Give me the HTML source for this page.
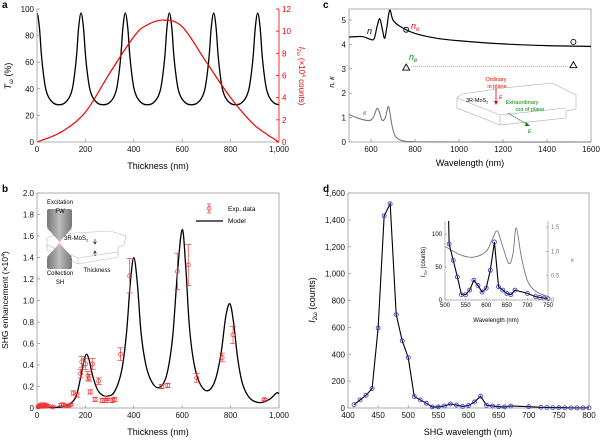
<!DOCTYPE html>
<html><head><meta charset="utf-8"><style>
body{margin:0;background:#fff}
svg{font-family:"Liberation Sans",sans-serif;display:block}
</style></head><body>
<svg id="fig" width="600" height="440" viewBox="0 0 600 440" xmlns="http://www.w3.org/2000/svg">
<g id="root"></g>
</svg>
<script>
// ---------- DATA ----------
// panel a
const aPeaks=[0,182,365,547,730,912];
const aProfileOff=[-91,-70,-50,-36,-26,-18,-10,0,10,18,26,36,50,70,91];
const aProfileVal=[28,29,33,40,52,66,86,97,86,66,52,40,33,29,28];
const aRedX=[0,100,200,300,400,450,520,600,700,800,900,1000];
const aRedY=[0,0.9,2.7,6.2,9.5,10.5,11.0,10.4,7.2,4.0,1.5,0];
const aXTicks=[0,200,400,600,800,1000];
const aXLabels=["0","200","400","600","800","1,000"];
const aYTicks=[0,20,40,60,80,100];
const aY2Ticks=[0,2,4,6,8,10,12];
// panel b
const bModelX=[0,50,100,130,160,180,195,205,215,230,250,270,290,320,350,370,385,400,415,430,450,475,505,535,560,580,600,615,630,650,675,705,735,760,780,797,812,830,850,880,920,960,990,1000];
const bModelY=[0,0.005,0.01,0.03,0.1,0.28,0.45,0.5,0.45,0.3,0.17,0.12,0.11,0.15,0.35,0.7,1.15,1.4,1.15,0.7,0.4,0.24,0.19,0.3,0.65,1.25,1.66,1.3,0.75,0.4,0.22,0.16,0.25,0.5,0.85,0.97,0.8,0.45,0.22,0.09,0.05,0.08,0.14,0.13];
const bExpX=[5,10,15,20,25,30,35,40,45,65,100,110,120,130,140,150,165,180,185,200,210,215,220,230,240,255,270,285,290,310,320,345,383,515,540,580,625,660,765,810,940];
const bExpY=[0.01,0.02,0.03,0.02,0.03,0.02,0.03,0.02,0.02,0.01,0.03,0.03,0.02,0.02,0.03,0.14,0.12,0.32,0.43,0.41,0.3,0.28,0.15,0.41,0.08,0.25,0.07,0.07,0.09,0.07,0.08,0.50,1.23,0.20,0.21,1.27,1.33,0.28,0.47,0.68,0.08];
const bExpErr=[0.01,0.01,0.01,0.01,0.01,0.01,0.01,0.01,0.01,0.01,0.01,0.01,0.01,0.01,0.01,0.02,0.02,0.04,0.05,0.05,0.04,0.03,0.02,0.05,0.02,0.03,0.02,0.02,0.02,0.02,0.02,0.06,0.16,0.02,0.02,0.17,0.19,0.04,0.04,0.08,0.01];
const bXTicks=[0,200,400,600,800,1000];
const bXLabels=["0","200","400","600","800","1,000"];
const bYTicks=[0,0.2,0.4,0.6,0.8,1.0,1.2,1.4,1.6,1.8,2.0];
// panel c
const cNX=[500,560,600,615,628,640,652,662,672,685,700,730,800,900,1000,1200,1400,1600];
const cNY=[4.3,4.32,4.2,4.25,4.75,5.05,4.6,4.25,4.7,5.4,5.0,4.75,4.45,4.25,4.15,4.02,3.95,3.92];
const cKX=[500,550,590,610,630,650,665,680,695,710,740,800,1000,1600];
const cKY=[1.12,0.95,0.88,1.0,1.38,0.9,1.0,1.45,0.7,0.25,0.06,0.01,0,0];
const cCircX=[760,1520];const cCircY=[4.6,4.1];
const cTriX=[760,1520];const cTriY=[3.05,3.15];
const cXTicks=[600,800,1000,1200,1400,1600];
const cYTicks=[0,1,2,3,4,5];
// panel d
const dX=[410,420,430,440,450,460,470,480,490,500,510,520,530,540,550,560,570,580,590,600,610,620,630,640,650,660,670,700,720,730,740,750,760,770,780,790,800];
const dY=[25,60,95,145,595,1430,1520,695,500,375,85,60,35,8,8,15,30,22,12,18,45,88,20,15,10,8,15,10,5,4,3,2,2,1,1,1,1];
const dXTicks=[400,450,500,550,600,650,700,750,800];
const dYTicks=[0,200,400,600,800,1000,1200,1400,1600];
const dYLabels=["0","200","400","600","800","1,000","1,200","1,400","1,600"];
const dInKX=[500,540,570,600,615,627,640,655,665,673,685,700,720,750];
const dInKY=[1.1,0.92,0.88,1.0,1.25,1.42,1.1,0.75,0.95,1.48,0.9,0.4,0.18,0.07];
const dInXTicks=[500,550,600,650,700,750];
const dInYTicks=[0,50,100];
const dInY2Ticks=[0,0.5,1.0,1.5];

// ---------- HELPERS ----------
const NS="http://www.w3.org/2000/svg";
const root=document.getElementById('root');
function el(tag,attrs,parent,text){const e=document.createElementNS(NS,tag);for(const k in attrs)e.setAttribute(k,attrs[k]);if(text!==undefined)e.textContent=text;(parent||root).appendChild(e);return e;}
function lin(d0,d1,r0,r1){return v=>r0+(v-d0)/(d1-d0)*(r1-r0);}
function smooth(pts){if(pts.length<2)return'';let d='M'+pts[0][0].toFixed(2)+','+pts[0][1].toFixed(2);for(let i=0;i<pts.length-1;i++){const p0=pts[i-1]||pts[i],p1=pts[i],p2=pts[i+1],p3=pts[i+2]||p2;const c1=[p1[0]+(p2[0]-p0[0])/6,p1[1]+(p2[1]-p0[1])/6],c2=[p2[0]-(p3[0]-p1[0])/6,p2[1]-(p3[1]-p1[1])/6];d+='C'+c1.map(v=>v.toFixed(2))+' '+c2.map(v=>v.toFixed(2))+' '+p2[0].toFixed(2)+','+p2[1].toFixed(2);}return d;}
function poly(pts){return 'M'+pts.map(p=>p[0].toFixed(2)+','+p[1].toFixed(2)).join('L');}
function frame(g,x0,y0,x1,y1){el('rect',{x:x0,y:y0,width:x1-x0,height:y1-y0,fill:'none',stroke:'#999','stroke-width':0.8},g);}
function xTicks(g,sx,ticks,labels,yb,fs){ticks.forEach((t,i)=>{el('line',{x1:sx(t),x2:sx(t),y1:yb,y2:yb-3,stroke:'#999','stroke-width':0.8},g);const tx=el('text',{x:sx(t),y:yb+10,'font-size':fs||8,'text-anchor':'middle',fill:'#111'},g,labels?labels[i]:String(t));});}
function yTicks(g,sy,ticks,labels,xl,fs,color,right){ticks.forEach((t,i)=>{el('line',{x1:xl,x2:right?xl-3:xl+3,y1:sy(t),y2:sy(t),stroke:color||'#999','stroke-width':0.8},g);const tx=el('text',{x:right?xl+3:xl-3,y:sy(t)+3,'font-size':fs||8,'text-anchor':right?'start':'end',fill:color||'#111'},g,labels?labels[i]:String(t));});}
function label(txt,x,y){const t=el('text',{x:x,y:y,'font-size':10,'font-weight':'bold'},root,txt);}

// ---------- PANEL A ----------
(function(){
const g=el('g',{});
const X0=37,X1=279,Y0=9,Y1=142;
const sx=lin(0,1000,X0,X1),sy=lin(0,100,Y1,Y0),sy2=lin(0,12,Y1,Y0);
el('defs',{},g).innerHTML='<clipPath id="ca"><rect x="37" y="0" width="242" height="142"/></clipPath>';
const pts=[];aPeaks.forEach(p=>aProfileOff.forEach((o,i)=>{const t=p+o;pts.push([t,aProfileVal[i]]);}));
pts.sort((a,b)=>a[0]-b[0]);
const uniq=pts.filter((p,i)=>i===0||Math.abs(p[0]-pts[i-1][0])>1);
const tc=el('path',{d:smooth(uniq.map(p=>[sx(p[0]),sy(p[1])])),fill:'none',stroke:'#000','stroke-width':1.3,'clip-path':'url(#ca)'},g);

const rc=el('path',{d:smooth(aRedX.map((x,i)=>[sx(x),sy2(aRedY[i])])),fill:'none',stroke:'#e00','stroke-width':1.2},g);

el('line',{x1:X0,x2:X1,y1:Y1,y2:Y1,stroke:'#999','stroke-width':0.8},g);
el('line',{x1:X0,x2:X0,y1:Y0,y2:Y1,stroke:'#999','stroke-width':0.8},g);
el('line',{x1:X1,x2:X1,y1:Y0,y2:Y1,stroke:'#e00','stroke-width':0.8},g);
xTicks(g,sx,aXTicks,aXLabels,Y1);
yTicks(g,sy,aYTicks,null,X0);
yTicks(g,sy2,aY2Ticks,null,X1,8,'#e00',true);
let t=el('text',{x:158,y:169,'font-size':9,'text-anchor':'middle'},g,'Thickness (nm)');
t=el('text',{transform:'translate(11,76) rotate(-90)','font-size':9,'text-anchor':'middle'},g);t.innerHTML='<tspan font-style="italic">T</tspan><tspan font-size="6" dy="2">ω</tspan><tspan dy="-2"> (%)</tspan>';
t=el('text',{transform:'translate(299,76) rotate(90)','font-size':8,'text-anchor':'middle',fill:'#e00'},g);t.innerHTML='<tspan font-style="italic">I</tspan><tspan font-size="5" dy="2">2ω</tspan><tspan dy="-2"> (×10</tspan><tspan font-size="5" dy="-3">4</tspan><tspan dy="3"> counts)</tspan>';
})();

// ---------- PANEL B ----------
(function(){
const g=el('g',{});
const X0=37,X1=279,Y0=193,Y1=408;
const sx=lin(0,1000,X0,X1),sy=lin(0,2,Y1,Y0);
frame(g,X0,Y0,X1,Y1);
xTicks(g,sx,bXTicks,bXLabels,Y1);
yTicks(g,sy,bYTicks,bYTicks.map(v=>v===0?'0':v.toFixed(1)),X0);
const sg=el('g',{},g);
sg.innerHTML='<defs><linearGradient id="gobj" x1="0" x2="1"><stop offset="0" stop-color="#777"/><stop offset="0.5" stop-color="#bbb"/><stop offset="1" stop-color="#777"/></linearGradient></defs>'+
'<path d="M47,238 L57,234 L110,231 L126,236 L124,245 L118,247 L118,252 L78,258 L47,245 Z" fill="none" stroke="#bbb" stroke-width="0.6"/>'+
'<path d="M47,245 L47,250 L78,264 L118,257 L118,252 M78,258 L78,264" fill="none" stroke="#bbb" stroke-width="0.6"/>'+
'<rect x="47" y="209" width="25" height="19" rx="2" fill="url(#gobj)"/><path d="M47,228 L72,228 L62,239 L57,239 Z" fill="url(#gobj)"/>'+
'<path d="M57,246 L62,246 L72,257 L47,257 Z" fill="url(#gobj)"/><rect x="47" y="257" width="25" height="12" rx="2" fill="url(#gobj)"/>'+
'<path d="M57,239 L62,239 L59.5,242.5 Z M57,246 L62,246 L59.5,242.5 Z" fill="#f4a9a0"/>'+
'<path d="M95,239 v5 M93.5,241.5 L95,244 L96.5,241.5 M95,256 v-5 M93.5,253.5 L95,251 L96.5,253.5" stroke="#000" stroke-width="0.6" fill="none"/>';
[['Excitation',60,204],['FW',60,213],['Collection',60,275],['SH',60,284],['Thickness',97,272]].forEach(a=>{const t=el('text',{x:a[1],y:a[2],'font-size':6,'text-anchor':'middle'},sg,a[0]);});
let t=el('text',{x:64,y:240,'font-size':6},sg);t.innerHTML='3R-MoS<tspan font-size="4" dy="1.5">2</tspan>';
const m=el('path',{d:smooth(bModelX.map((x,i)=>[sx(x),sy(bModelY[i])])),fill:'none',stroke:'#000','stroke-width':1.3},g);

bExpX.forEach((x,i)=>{const px=sx(x),py=sy(bExpY[i]),e=sy(bExpY[i]-bExpErr[i])-py;
const pg=el('g',{stroke:'#e33',fill:'none','stroke-width':0.7},g);
el('line',{x1:px,x2:px,y1:py-e,y2:py+e},pg);el('line',{x1:px-3,x2:px+3,y1:py-e,y2:py-e},pg);el('line',{x1:px-3,x2:px+3,y1:py+e,y2:py+e},pg);
el('circle',{cx:px,cy:py,r:2},pg);});
const lg=el('g',{},g);
el('line',{x1:209,x2:209,y1:204,y2:213,stroke:'#e33','stroke-width':0.7},lg);el('line',{x1:207,x2:211,y1:204,y2:204,stroke:'#e33','stroke-width':0.7},lg);el('line',{x1:207,x2:211,y1:213,y2:213,stroke:'#e33','stroke-width':0.7},lg);
el('circle',{cx:209,cy:208.5,r:2,fill:'none',stroke:'#e33','stroke-width':0.7},lg);
el('text',{x:228,y:211,'font-size':6.5},lg,'Exp. data');
el('line',{x1:196,x2:223,y1:221,y2:221,stroke:'#000','stroke-width':1.3},lg);
el('text',{x:228,y:223,'font-size':6.5},lg,'Model');
t=el('text',{x:158,y:435,'font-size':9,'text-anchor':'middle'},g,'Thickness (nm)');
t=el('text',{transform:'translate(8,300) rotate(-90)','font-size':8.5,'text-anchor':'middle'},g);t.innerHTML='SHG enhancement (×10<tspan font-size="5.5" dy="-3">4</tspan><tspan dy="3">)</tspan>';
})();

// ---------- PANEL C ----------
(function(){
const g=el('g',{});
const X0=349,X1=591,Y0=9,Y1=142;
const sx=lin(500,1600,X0,X1),sy=lin(0,5,Y1,20);
frame(g,X0,Y0,X1,Y1);
xTicks(g,sx,cXTicks,null,Y1);
yTicks(g,sy,cYTicks,null,X0);
const sg=el('g',{},g);
sg.innerHTML='<path d="M457,98 L462,94 L504,88 L552,83 L576,95 L576,109 L566,111 L566,118 L500,125 L457,108 Z M500,115 L500,125 M500,115 L566,108 M457,98 L500,115" fill="none" stroke="#aaa" stroke-width="0.6"/>'+
'<path d="M496,88 V103" stroke="#e00" stroke-width="0.8"/><path d="M494,101 L496,105 L498,101 Z" fill="#e00"/>'+
'<path d="M508,113 L528,125" stroke="#080" stroke-width="0.7" stroke-dasharray="2,0.5"/><path d="M526,122 L530,126 L525,126 Z" fill="#080"/>';
[['Ordinary',496,81,'#e00'],['in plane',497,88,'#e00'],['Extraordinary',522,104,'#080'],['out of plane',530,111,'#080']].forEach(a=>{const t=el('text',{x:a[1],y:a[2],'font-size':5.5,'text-anchor':'middle',fill:a[3]},sg,a[0]);});
let t=el('text',{x:466,y:102,'font-size':5.5},sg);t.innerHTML='3R-MoS<tspan font-size="4" dy="1.5">2</tspan>';
el('text',{x:499,y:99,'font-size':5,fill:'#e00','font-style':'italic'},sg,'E');
el('text',{x:528,y:133,'font-size':5,fill:'#080','font-style':'italic'},sg,'E');
const n=el('path',{d:smooth(cNX.map((x,i)=>[sx(x),sy(cNY[i])])),fill:'none',stroke:'#000','stroke-width':1.2},g);
const k=el('path',{d:smooth(cKX.map((x,i)=>[sx(x),sy(cKY[i])])),fill:'none',stroke:'#777','stroke-width':1.1},g);
const dl=el('line',{x1:sx(cTriX[0])+5,x2:sx(cTriX[1])-5,y1:sy((cTriY[0]+cTriY[1])/2),y2:sy((cTriY[0]+cTriY[1])/2),stroke:'#999','stroke-width':0.8,'stroke-dasharray':'1,1'},g);
cCircX.forEach((x,i)=>{const c=el('circle',{cx:sx(x),cy:sy(cCircY[i]),r:2.5,fill:'none',stroke:'#000','stroke-width':0.9},g);});
cTriX.forEach((x,i)=>{const px=sx(x),py=sy(cTriY[i]);const p=el('path',{d:`M${px-3.5},${py+2.5}L${px+3.5},${py+2.5}L${px},${py-3.5}Z`,fill:'none',stroke:'#000','stroke-width':0.9},g);});
el('text',{x:367,y:34,'font-size':9,'font-style':'italic'},g,'n');
t=el('text',{x:411,y:29,'font-size':9,'font-style':'italic',fill:'#e00'},g);t.innerHTML='n<tspan font-size="6" dy="2">o</tspan>';
t=el('text',{x:409,y:60,'font-size':9,'font-style':'italic',fill:'#080'},g);t.innerHTML='n<tspan font-size="6" dy="2">e</tspan>';
el('text',{x:363,y:115,'font-size':7,'font-style':'italic',fill:'#777'},g,'κ');
t=el('text',{x:470,y:166,'font-size':9,'text-anchor':'middle'},g,'Wavelength (nm)');
t=el('text',{transform:'translate(334,82) rotate(-90)','font-size':7,'text-anchor':'middle','font-style':'italic'},g,'n, κ');
})();

// ---------- PANEL D ----------
(function(){
const g=el('g',{});
const X0=348,X1=589,Y0=193,Y1=408;
const sx=lin(400,800,X0,X1),sy=lin(0,1600,Y1,Y0);
frame(g,X0,Y0,X1,Y1);
xTicks(g,sx,dXTicks,null,Y1);
yTicks(g,sy,dYTicks,dYLabels,X0);
const l=el('path',{d:poly(dX.map((x,i)=>[sx(x),sy(dY[i])])),fill:'none',stroke:'#000','stroke-width':1.1},g);
dX.forEach((x,i)=>{const c=el('circle',{cx:sx(x),cy:sy(dY[i]),r:2,fill:'none',stroke:'#33c','stroke-width':0.8},g);});
let t=el('text',{x:468,y:435,'font-size':9,'text-anchor':'middle'},g,'SHG wavelength (nm)');
t=el('text',{transform:'translate(315,300) rotate(-90)','font-size':9,'text-anchor':'middle'},g);t.innerHTML='<tspan font-style="italic">I</tspan><tspan font-size="6" dy="2">2ω</tspan><tspan dy="-2"> (counts)</tspan>';
const ig=el('g',{},g);
const IX0=445,IX1=548,IY0=221,IY1=300;
const ix=lin(500,750,IX0,IX1),iy=lin(0,100,IY1,234),iy2=lin(0,1.5,IY1,227);
el('rect',{x:IX0,y:IY0,width:IX1-IX0,height:IY1-IY0,fill:'#fff'},ig);
el('defs',{},ig).innerHTML='<clipPath id="cd"><rect x="445" y="221" width="103" height="80"/></clipPath>';
const kk=el('path',{d:smooth(dInKX.map((x,i)=>[ix(x),iy2(dInKY[i])])),fill:'none',stroke:'#777','stroke-width':0.9,'clip-path':'url(#cd)'},ig);
const il=el('path',{d:poly(dX.map((x,i)=>[ix(x),iy(dY[i])])),fill:'none',stroke:'#000','stroke-width':1.1,'clip-path':'url(#cd)'},ig);
dX.forEach((x,i)=>{if(x<505||x>750||dY[i]>115)return;const c=el('circle',{cx:ix(x),cy:iy(dY[i]),r:2,fill:'none',stroke:'#33c','stroke-width':0.8},ig);});
el('line',{x1:IX0,x2:IX0,y1:IY0,y2:IY1,stroke:'#999','stroke-width':0.7},ig);
el('line',{x1:IX0,x2:IX1,y1:IY1,y2:IY1,stroke:'#999','stroke-width':0.7},ig);
el('line',{x1:IX1,x2:IX1,y1:IY0,y2:IY1,stroke:'#999','stroke-width':0.7},ig);
dInXTicks.forEach(v=>{el('line',{x1:ix(v),x2:ix(v),y1:IY1,y2:IY1-2,stroke:'#999','stroke-width':0.7},ig);const tx=el('text',{x:ix(v),y:IY1+7,'font-size':6,'text-anchor':'middle'},ig,String(v));});
dInYTicks.forEach(v=>{el('line',{x1:IX0,x2:IX0+2,y1:iy(v),y2:iy(v),stroke:'#999','stroke-width':0.7},ig);const tx=el('text',{x:IX0-3,y:iy(v)+2,'font-size':6,'text-anchor':'end'},ig,String(v));});
dInY2Ticks.forEach(v=>{el('line',{x1:IX1,x2:IX1-2,y1:iy2(v),y2:iy2(v),stroke:'#999','stroke-width':0.7},ig);const tx=el('text',{x:IX1+3,y:iy2(v)+2,'font-size':6,fill:'#777'},ig,v===0?'0':v.toFixed(1));});
t=el('text',{x:496,y:322,'font-size':6,'text-anchor':'middle'},ig,'Wavelength (nm)');
t=el('text',{transform:'translate(425,262) rotate(-90)','font-size':6,'text-anchor':'middle'},ig);t.innerHTML='<tspan font-style="italic">I</tspan><tspan font-size="4" dy="1.5">2ω</tspan><tspan dy="-1.5"> (counts)</tspan>';
t=el('text',{x:571,y:262,'font-size':6,'font-style':'italic',fill:'#777'},ig,'κ');
})();

label('a',2,8);label('b',2,192);label('c',323,8);label('d',323,192);
</script>
</body></html>
